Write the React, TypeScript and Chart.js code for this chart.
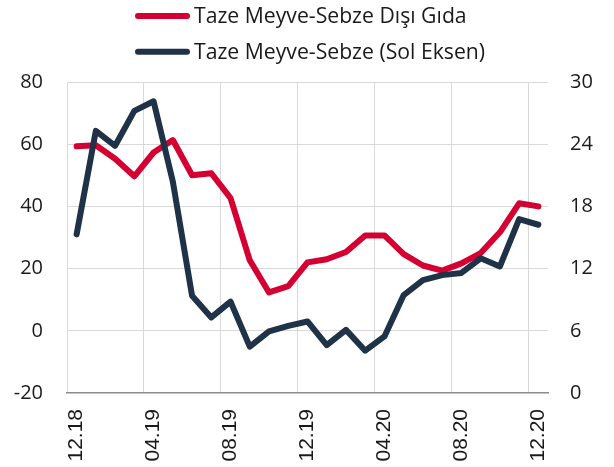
import React, { useEffect, useRef } from 'react';
import { Chart, registerables } from 'chart.js';

Chart.register(...registerables);

// Months 12.18 ... 12.20
const categories = [
  '12.18', '01.19', '02.19', '03.19', '04.19', '05.19', '06.19', '07.19', '08.19',
  '09.19', '10.19', '11.19', '12.19', '01.20', '02.20', '03.20', '04.20', '05.20',
  '06.20', '07.20', '08.20', '09.20', '10.20', '11.20', '12.20',
];

// Right axis: Taze Meyve-Sebze Dışı Gıda
const foodExFreshValues = [
  23.8, 23.9, 22.6, 20.9, 23.2, 24.4, 21.0, 21.2, 18.8,
  12.8, 9.7, 10.3, 12.6, 12.9, 13.6, 15.2, 15.2, 13.4,
  12.3, 11.8, 12.5, 13.5, 15.5, 18.3, 18.0,
];

// Left axis: Taze Meyve-Sebze (Sol Eksen)
const freshFruitVegValues = [
  31.0, 64.3, 59.5, 70.7, 73.8, 48.0, 11.3, 4.3, 9.4,
  -5.1, -0.2, 1.6, 3.0, -4.6, 0.3, -6.4, -1.8, 11.5,
  16.3, 17.9, 18.6, 23.3, 20.7, 35.9, 34.1,
];

const seriesLabels = ['Taze Meyve-Sebze Dışı Gıda', 'Taze Meyve-Sebze (Sol Eksen)'];
const leftAxisRange = { min: -20, max: 80, step: 20 };
const rightAxisRange = { min: 0, max: 30, step: 6 };
const labelEvery = 4;

const RED = '#D50032';
const NAVY = '#1F3247';
const GRID = '#D9D9D9';
const AXIS = '#8C8C8C';
const TEXT = '#1A1A1A';

const legendPlugin = {
  id: 'customLegend',
  afterDraw(chart: any) {
    const ctx = chart.ctx;
    ctx.save();
    chart.data.datasets.forEach((ds: any, i: number) => {
      const y = 16 + i * 35.7;
      ctx.beginPath();
      ctx.strokeStyle = ds.borderColor;
      ctx.lineWidth = 6;
      ctx.lineCap = 'round';
      ctx.moveTo(138, y);
      ctx.lineTo(187, y);
      ctx.stroke();
      ctx.fillStyle = TEXT;
      ctx.font = '21.2px "Open Sans"';
      ctx.textBaseline = 'middle';
      ctx.textAlign = 'left';
      ctx.fillText(ds.label, 194, y + 1);
    });
    ctx.restore();
  },
};

export default function App() {
  const ref = useRef<HTMLCanvasElement>(null);

  useEffect(() => {
    if (!ref.current) return;
    const chart = new Chart(ref.current, {
      type: 'line',
      data: {
        labels: categories,
        datasets: [
          {
            label: seriesLabels[0],
            data: foodExFreshValues,
            yAxisID: 'y1',
            borderColor: RED,
            backgroundColor: RED,
            borderWidth: 6,
            pointRadius: 0,
            tension: 0,
            borderCapStyle: 'round',
            borderJoinStyle: 'round',
            order: 1,
          },
          {
            label: seriesLabels[1],
            data: freshFruitVegValues,
            yAxisID: 'y',
            borderColor: NAVY,
            backgroundColor: NAVY,
            borderWidth: 6,
            pointRadius: 0,
            tension: 0,
            borderCapStyle: 'round',
            borderJoinStyle: 'round',
            order: 0,
          },
        ],
      },
      options: {
        animation: false,
        responsive: false,
        devicePixelRatio: 1,
        layout: { padding: { top: 82, left: 0, right: 0, bottom: 0 } },
        plugins: {
          legend: { display: false },
          tooltip: { enabled: false },
        },
        scales: {
          x: {
            type: 'category',
            offset: true,
            grid: {
              offset: true,
              drawTicks: false,
              lineWidth: 1,
              color: (c: any) => (c.index !== undefined && c.index % labelEvery === 0 ? GRID : 'transparent'),
            },
            border: { display: true, color: AXIS, width: 1.5 },
            ticks: {
              autoSkip: false,
              maxRotation: 90,
              minRotation: 90,
              padding: 16,
              color: TEXT,
              font: { family: '"Liberation Sans", Arial, sans-serif', size: 21 },
              callback: (_v: any, i: number) => (i % labelEvery === 0 ? categories[i] : ''),
            },
            afterFit: (s: any) => { s.height = 74; },
          },
          y: {
            position: 'left',
            min: leftAxisRange.min,
            max: leftAxisRange.max,
            grid: {
              drawTicks: false,
              lineWidth: 1,
              color: (c: any) => (c.tick && c.tick.value === leftAxisRange.min ? 'transparent' : GRID),
            },
            border: { display: false },
            ticks: {
              stepSize: leftAxisRange.step,
              padding: 24,
              color: TEXT,
              font: { family: '"Open Sans"', size: 20 },
            },
            afterFit: (s: any) => { s.width = 67; },
          },
          y1: {
            position: 'right',
            min: rightAxisRange.min,
            max: rightAxisRange.max,
            grid: { display: false, drawTicks: false },
            border: { display: false },
            ticks: {
              stepSize: rightAxisRange.step,
              padding: 22,
              color: TEXT,
              font: { family: '"Open Sans"', size: 20 },
            },
            afterFit: (s: any) => { s.width = 66; },
          },
        },
      },
      plugins: [legendPlugin],
    } as any);
    return () => chart.destroy();
  }, []);

  return (
    <div style={{ position: 'fixed', left: 0, top: 0, width: 614, height: 467, background: '#fff' }}>
      <canvas ref={ref} width={614} height={467} style={{ display: 'block', width: 614, height: 467 }} />
    </div>
  );
}
